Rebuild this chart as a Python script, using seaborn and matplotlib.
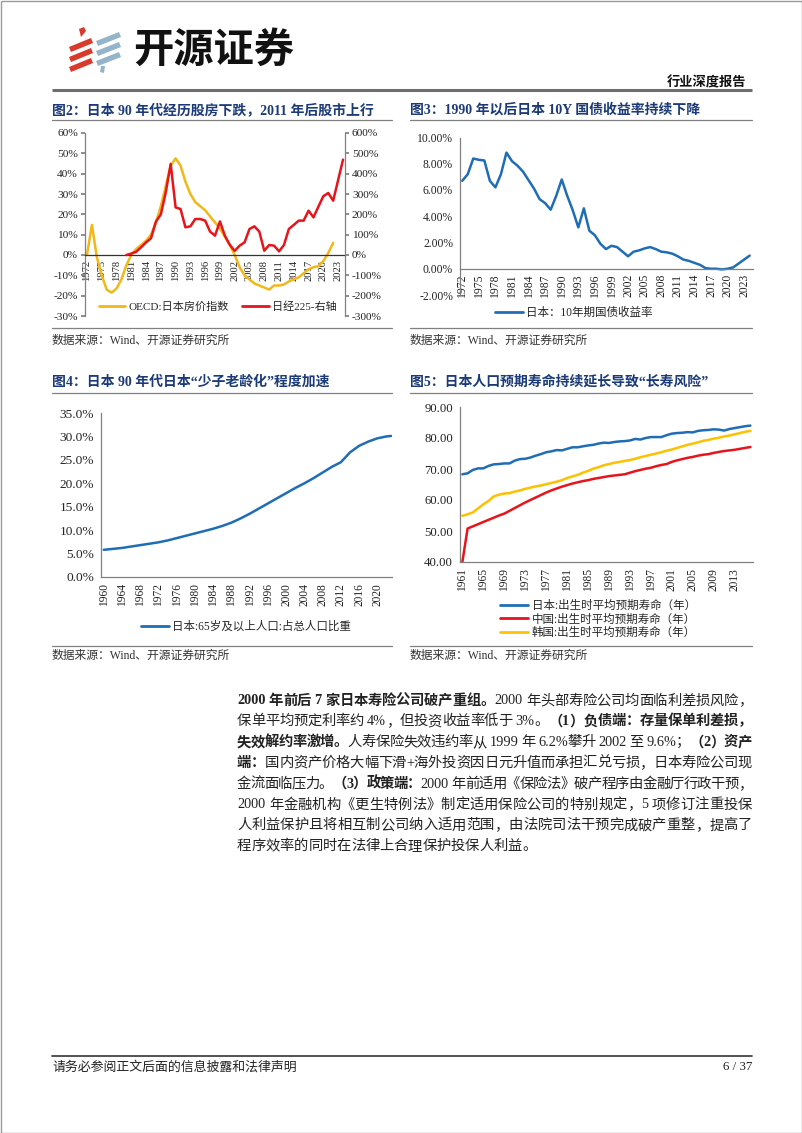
import re
import numpy as np
import pandas as pd
import matplotlib
matplotlib.use('Agg')
import matplotlib.pyplot as plt
import matplotlib.ticker as mticker
import seaborn as sns
from matplotlib.lines import Line2D
from matplotlib.patches import Polygon, Rectangle

W, H = 802, 1133

# ---- 图2: 日本房价 / 日经225 ----
house_years = list(range(1972, 2023))
house_yoy = [0, 14.8, -1, -10, -17, -18.5, -16.5, -12, -5, 0,
             3, 5, 7, 10, 16, 24, 34, 44, 47.5, 44,
             36, 30, 26, 24, 22, 19, 16, 13, 9, 5,
             0, -6, -10, -12, -14, -15, -16, -17, -15, -15,
             -14.5, -13, -12, -11, -9, -7, -6, -5.5, -3, 1, 6]
nikkei_years = list(range(1980, 2025))
nikkei_chg = [0, 7, 16, 38, 62, 82, 164, 200, 308, 448,
              234, 226, 136, 141, 177, 177, 169, 115, 95, 165,
              95, 50, 20, 46, 62, 128, 141, 115, 21, 49,
              46, 18, 49, 128, 148, 169, 169, 218, 185, 238,
              289, 305, 267, 368, 469]
fig2_labels = ['OECD:日本房价指数', '日经225-右轴']

# ---- 图3: 日本10年期国债收益率 ----
jgb_years = list(range(1972, 2025))
jgb_yield = [6.7, 7.2, 8.4, 8.3, 8.25, 6.7, 6.2, 7.2, 8.85, 8.2,
             7.85, 7.4, 6.75, 6.1, 5.3, 5.0, 4.5, 5.55, 6.8, 5.55,
             4.45, 3.15, 4.6, 2.9, 2.55, 1.9, 1.5, 1.75, 1.65, 1.3,
             0.95, 1.3, 1.4, 1.55, 1.65, 1.5, 1.3, 1.25, 1.15, 0.95,
             0.7, 0.6, 0.45, 0.3, 0.05, 0.0, 0.0, -0.05, 0.0, 0.1,
             0.4, 0.7, 1.0]
fig3_label = '日本：10年期国债收益率'

# ---- 图4: 65岁及以上人口占比 ----
aging_years = list(range(1960, 2023, 2)) + [2023]
aging_share = [5.8, 6.0, 6.2, 6.5, 6.8, 7.1, 7.4, 7.8, 8.3, 8.8,
               9.3, 9.8, 10.3, 10.9, 11.6, 12.5, 13.5, 14.6, 15.7, 16.8,
               17.9, 19.0, 20.0, 21.1, 22.3, 23.5, 24.5, 26.6, 28.0, 28.9,
               29.6, 30.0, 30.1]
fig4_label = '日本:65岁及以上人口:占总人口比重'

# ---- 图5: 出生时平均预期寿命 ----
life_years = list(range(1961, 2017))
life_japan = [68.3, 68.6, 69.7, 70.2, 70.2, 71.0, 71.5, 71.6, 71.8, 71.8,
              72.7, 73.2, 73.3, 73.7, 74.3, 74.8, 75.4, 75.7, 76.1, 76.0,
              76.5, 77.0, 77.0, 77.3, 77.6, 77.8, 78.2, 78.5, 78.4, 78.7,
              78.9, 79.0, 79.2, 79.7, 79.5, 80.0, 80.3, 80.3, 80.3, 80.9,
              81.4, 81.6, 81.7, 81.9, 81.8, 82.3, 82.5, 82.6, 82.8, 82.7,
              82.4, 82.9, 83.2, 83.5, 83.8, 84.0]
life_china = [40.0, 50.8, 51.5, 52.2, 52.9, 53.6, 54.3, 55.0, 55.6, 56.5,
              57.4, 58.3, 59.2, 60.0, 60.8, 61.6, 62.4, 63.1, 63.7, 64.3,
              64.8, 65.3, 65.7, 66.1, 66.4, 66.8, 67.1, 67.4, 67.7, 67.9,
              68.1, 68.3, 68.8, 69.3, 69.7, 70.1, 70.4, 70.9, 71.3, 71.6,
              72.3, 72.8, 73.2, 73.6, 73.9, 74.3, 74.6, 74.8, 75.2, 75.5,
              75.8, 76.0, 76.2, 76.5, 76.8, 77.1]
life_korea = [54.9, 55.4, 56.0, 57.3, 58.6, 59.7, 61.2, 61.7, 62.1, 62.2,
              62.7, 63.1, 63.6, 64.0, 64.4, 64.7, 65.1, 65.5, 65.9, 66.4,
              67.1, 67.6, 68.1, 68.8, 69.4, 70.1, 70.6, 71.2, 71.6, 72.0,
              72.3, 72.6, 72.9, 73.3, 73.8, 74.2, 74.6, 75.0, 75.4, 75.9,
              76.3, 76.8, 77.3, 77.8, 78.2, 78.6, 79.1, 79.4, 79.8, 80.1,
              80.5, 80.8, 81.2, 81.6, 82.0, 82.3]
fig5_labels = ['日本:出生时平均预期寿命（年）', '中国:出生时平均预期寿命（年）', '韩国:出生时平均预期寿命（年）']

# ---- 文本 ----
titles = ['图2：日本 90 年代经历股房下跌，2011 年后股市上行',
          '图3：1990 年以后日本 10Y 国债收益率持续下降',
          '图4：日本 90 年代日本“少子老龄化”程度加速',
          '图5：日本人口预期寿命持续延长导致“长寿风险”']
source = '数据来源：Wind、开源证券研究所'
para_lines = [
    [('2000 年前后 7 家日本寿险公司破产重组。', True), ('2000 年头部寿险公司均面临利差损风险，', False)],
    [('保单平均预定利率约 4%，但投资收益率低于 3%。', False), ('（1）负债端：存量保单利差损，', True)],
    [('失效解约率激增。', True), ('人寿保险失效违约率从 1999 年 6.2%攀升 2002 至 9.6%；', False), ('（2）资产', True)],
    [('端：', True), ('国内资产价格大幅下滑+海外投资因日元升值而承担汇兑亏损，日本寿险公司现', False)],
    [('金流面临压力。', False), ('（3）政策端：', True), ('2000 年前适用《保险法》破产程序由金融厅行政干预，', False)],
    [('2000 年金融机构《更生特例法》制定适用保险公司的特别规定，5 项修订注重投保', False)],
    [('人利益保护且将相互制公司纳入适用范围，由法院司法干预完成破产重整，提高了', False)],
    [('程序效率的同时在法律上合理保护投保人利益。', False)],
]

NAVY = '#1B3A78'
GRAY = '#808080'
BLUE = '#1F6DB5'
RED = '#E8141B'
GOLD = '#F2B818'
YELLOW = '#FFC000'
TXT = '#222222'

sns.set_theme(style='white')
plt.rcParams['font.family'] = ['Liberation Serif', 'Noto Sans CJK SC']
plt.rcParams['axes.unicode_minus'] = False

fig = plt.figure(figsize=(W / 100, H / 100), dpi=100)
fig.patch.set_facecolor('white')

bg = fig.add_axes([0, 0, 1, 1])
bg.set_xlim(0, W)
bg.set_ylim(H, 0)
bg.axis('off')


def px_rect(x0, y0, x1, y1):
    return [x0 / W, 1 - y1 / H, (x1 - x0) / W, (y1 - y0) / H]


def fig_xy(x, y):
    return (x / W, 1 - y / H)


# page frame
bg.add_patch(Rectangle((0.5, 0.5), W - 1, H - 1, fill=False, ec='#9a9a9a', lw=1))

# header logo
red_polys = [[(79, 29), (84, 27), (86, 31), (81, 37)],
             [(69, 47), (91, 38), (93, 43), (71, 52)],
             [(69, 57), (91, 48), (93, 53), (71, 62)],
             [(69, 67), (91, 58), (93, 63), (71, 72)]]
blue_polys = [[(96, 41), (119, 32), (121, 37), (98, 46)],
              [(96, 51), (119, 42), (121, 47), (98, 56)],
              [(96, 61), (119, 52), (121, 57), (98, 66)],
              [(101, 66), (105, 66), (104, 73), (100, 72)]]
for p in red_polys:
    bg.add_patch(Polygon(p, closed=True, color='#D93A2C', lw=0))
for p in blue_polys:
    bg.add_patch(Polygon(p, closed=True, color='#94B5C9', lw=0))
bg.text(133, 50, '开源证券', fontsize=29, fontweight='bold', color='#111111',
        family=['Noto Sans CJK SC'], ha='left', va='center')
bg.text(746, 83, '行业深度报告', fontsize=9.5, fontweight='bold', color='#111111', ha='right', va='center')
bg.plot([52, 752], [89.5, 89.5], color='#6e6e6e', lw=2.2, solid_capstyle='butt')


def panel_frame(x0, x1, title, y_title, y_rule, y_src_rule, y_src):
    bg.text(x0, y_title, title, fontsize=10, fontweight='bold', color=NAVY, ha='left', va='center')
    bg.plot([x0, x1], [y_rule, y_rule], color=GRAY, lw=0.9)
    bg.plot([x0, x1], [y_src_rule, y_src_rule], color=GRAY, lw=0.9)
    bg.text(x0, y_src, source, fontsize=8.5, color='#333333', ha='left', va='center')


panel_frame(52, 392, titles[0], 110, 120, 328, 341)
panel_frame(410, 752, titles[1], 110, 120, 328, 341)
panel_frame(52, 392, titles[2], 382, 393, 646, 656)
panel_frame(410, 752, titles[3], 382, 393, 646, 656)


def style_axis(ax):
    for s in ['top', 'right']:
        ax.spines[s].set_visible(False)
    for s in ['left', 'bottom', 'right']:
        ax.spines[s].set_color(GRAY)
        ax.spines[s].set_linewidth(0.9)
    ax.set_facecolor('none')
    ax.set_xlabel('')
    ax.set_ylabel('')
    ax.tick_params(axis='both', which='both', colors=GRAY, labelcolor=TXT, direction='out')


# ---------- 图2 ----------
ax2 = fig.add_axes(px_rect(85, 133, 345, 316))
df_house = pd.DataFrame({'year': house_years, 'value': house_yoy})
sns.lineplot(data=df_house, x='year', y='value', ax=ax2, color=GOLD, lw=1.8)
style_axis(ax2)
ax2.set_xlim(1971.6, 2024.4)
ax2.set_ylim(-30, 60)
ax2.spines['bottom'].set_position(('data', 0))
ax2.spines['bottom'].set_color('#333333')
ax2.set_yticks(np.arange(-30, 61, 10))
ax2.yaxis.set_major_formatter(mticker.FuncFormatter(lambda v, p: f'{v:.0f}%'))
ax2.set_xticks(range(1972, 2024, 3))
ax2.xaxis.set_minor_locator(mticker.MultipleLocator(1))
ax2.tick_params(axis='x', which='both', length=2.5, rotation=90, labelsize=7.6, pad=1)
ax2.tick_params(axis='y', length=3, labelsize=8.2, pad=2)

ax2r = ax2.twinx()
df_nikkei = pd.DataFrame({'year': nikkei_years, 'value': nikkei_chg})
sns.lineplot(data=df_nikkei, x='year', y='value', ax=ax2r, color=RED, lw=1.8)
ax2r.set_ylim(-300, 600)
ax2r.set_xlim(1971.6, 2024.4)
for s in ['top', 'bottom', 'left']:
    ax2r.spines[s].set_visible(False)
ax2r.spines['right'].set_color(GRAY)
ax2r.spines['right'].set_linewidth(0.9)
ax2r.set_ylabel('')
ax2r.set_yticks(np.arange(-300, 601, 100))
ax2r.yaxis.set_major_formatter(mticker.FuncFormatter(lambda v, p: f'{v:.0f}%'))
ax2r.tick_params(axis='y', length=3, labelsize=8.2, pad=2, colors=GRAY, labelcolor=TXT)

fig.legend(handles=[Line2D([], [], color=GOLD, lw=2), Line2D([], [], color=RED, lw=2)],
           labels=fig2_labels, loc='center', bbox_to_anchor=fig_xy(218, 307), ncol=2,
           frameon=False, fontsize=8, handlelength=2.4, handletextpad=0.3, columnspacing=1.2)

# ---------- 图3 ----------
ax3 = fig.add_axes(px_rect(460, 137.5, 753, 295))
sns.lineplot(x=jgb_years, y=jgb_yield, ax=ax3, color=BLUE, lw=1.8)
style_axis(ax3)
ax3.set_xlim(1971.6, 2024.6)
ax3.set_ylim(-2, 10)
ax3.spines['bottom'].set_position(('data', 0))
ax3.set_yticks(np.arange(-2, 10.1, 2))
ax3.yaxis.set_major_formatter(mticker.FuncFormatter(lambda v, p: f'{v:.2f}%'))
ax3.set_xticks(range(1972, 2024, 3))
ax3.xaxis.set_minor_locator(mticker.MultipleLocator(1))
ax3.tick_params(axis='x', which='both', length=2.5, rotation=90, labelsize=8.4, pad=1)
ax3.tick_params(axis='y', length=3, labelsize=8.4, pad=2)
fig.legend(handles=[Line2D([], [], color=BLUE, lw=2)], labels=[fig3_label],
           loc='center', bbox_to_anchor=fig_xy(574, 313), frameon=False, fontsize=8.3,
           handlelength=2.4, handletextpad=0.3)

# ---------- 图4 ----------
ax4 = fig.add_axes(px_rect(101, 413, 392, 577))
sns.lineplot(x=aging_years, y=aging_share, ax=ax4, color=BLUE, lw=1.8)
style_axis(ax4)
ax4.set_xlim(1959.4, 2023.2)
ax4.set_ylim(0, 35)
ax4.set_yticks(np.arange(0, 35.1, 5))
ax4.yaxis.set_major_formatter(mticker.FuncFormatter(lambda v, p: f'{v:.1f}%'))
ax4.set_xticks(range(1960, 2023, 4))
ax4.tick_params(axis='x', length=2.5, rotation=90, labelsize=8.3, pad=2)
ax4.tick_params(axis='y', length=3, labelsize=9.6, pad=2)
fig.legend(handles=[Line2D([], [], color=BLUE, lw=2)], labels=[fig4_label],
           loc='center', bbox_to_anchor=fig_xy(246, 627), frameon=False, fontsize=8.3,
           handlelength=2.4, handletextpad=0.3)

# ---------- 图5 ----------
ax5 = fig.add_axes(px_rect(460, 407, 753, 562))
df_life = pd.DataFrame({
    'year': life_years * 3,
    'value': life_japan + life_china + life_korea,
    'country': [fig5_labels[0]] * len(life_years) + [fig5_labels[1]] * len(life_years)
               + [fig5_labels[2]] * len(life_years),
})
sns.lineplot(data=df_life, x='year', y='value', hue='country', hue_order=fig5_labels,
             palette=[BLUE, RED, YELLOW], ax=ax5, lw=1.8, legend=False)
style_axis(ax5)
ax5.set_xlim(1960.55, 2016.5)
ax5.set_ylim(40, 90)
ax5.set_yticks(np.arange(40, 90.1, 10))
ax5.yaxis.set_major_formatter(mticker.FuncFormatter(lambda v, p: f'{v:.2f}'))
ax5.set_xticks(range(1961, 2016, 4))
ax5.tick_params(axis='x', length=2.5, rotation=90, labelsize=8.3, pad=2)
ax5.tick_params(axis='y', length=3, labelsize=9.2, pad=2)
fig.legend(handles=[Line2D([], [], color=c, lw=2) for c in [BLUE, RED, YELLOW]],
           labels=fig5_labels, loc='center', bbox_to_anchor=fig_xy(598, 619.5), frameon=False,
           fontsize=8.3, handlelength=2.4, handletextpad=0.3, labelspacing=0.12)

# ---------- 正文 ----------
renderer = fig.canvas.get_renderer()
PARA_X0, PARA_X1 = 237, 752
PARA_FS = 10.3
_wcache = {}


def tok_width(tok, bold):
    if tok == ' ':
        return PARA_FS * 100 / 72 * 0.25
    key = (tok, bold)
    if key not in _wcache:
        t = bg.text(0, 0, tok, fontsize=PARA_FS, fontweight='bold' if bold else 'normal')
        _wcache[key] = t.get_window_extent(renderer=renderer).width
        t.remove()
    return _wcache[key]


for i, segs in enumerate(para_lines):
    y = 700 + i * 20.8 + 4.5
    toks = []
    for s, b in segs:
        for tk in re.findall(r'[A-Za-z0-9.%]+| |.', s):
            toks.append((tk, b))
    widths = [tok_width(tk, b) for tk, b in toks]
    justify = i < len(para_lines) - 1
    gap = (PARA_X1 - PARA_X0 - sum(widths)) / (len(toks) - 1) if justify else 0
    x = PARA_X0
    for (tk, b), w in zip(toks, widths):
        if tk != ' ':
            bg.text(x, y, tk, fontsize=PARA_FS, fontweight='bold' if b else 'normal',
                    color=TXT, ha='left', va='baseline')
        x += w + gap

# ---------- 页脚 ----------
bg.plot([52, 752], [1056, 1056], color='#333333', lw=1.2)
bg.text(52, 1067, '请务必参阅正文后面的信息披露和法律声明', fontsize=9.3, color=TXT, ha='left', va='center')
bg.text(752, 1067, '6 / 37', fontsize=9.3, color=TXT, ha='right', va='center')

fig.savefig('out.png', dpi=100, facecolor='white')
plt.close(fig)
